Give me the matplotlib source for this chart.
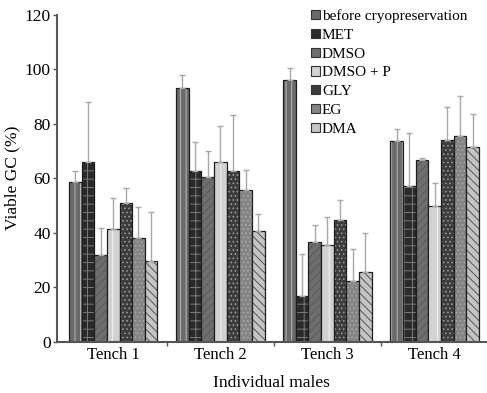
import numpy as np
import matplotlib.pyplot as plt

plt.rcParams["font.family"] = ["Liberation Serif", "DejaVu Serif"]
plt.rcParams["hatch.linewidth"] = 0.7

groups = ["Tench 1", "Tench 2", "Tench 3", "Tench 4"]
series = ["before cryopreservation", "MET", "DMSO", "DMSO + P", "GLY", "EG", "DMA"]

# mean viable GC (%) per series, one value per tench
before = [58.5, 93.0, 96.0, 73.8]
met = [66.0, 62.6, 16.7, 57.2]
dmso = [32.0, 60.6, 36.6, 66.5]
dmso_p = [41.5, 65.8, 35.6, 50.0]
gly = [50.8, 62.6, 44.6, 74.0]
eg = [38.0, 55.8, 22.5, 75.5]
dma = [29.8, 40.8, 25.5, 71.3]

# upper error (SD) per series
before_err = [4.0, 5.0, 4.3, 4.4]
met_err = [22.0, 10.6, 15.4, 19.4]
dmso_err = [9.8, 9.2, 6.3, 1.0]
dmso_p_err = [11.3, 13.4, 10.3, 8.2]
gly_err = [5.8, 20.5, 7.5, 12.2]
eg_err = [11.5, 7.2, 11.4, 14.8]
dma_err = [17.8, 6.2, 14.4, 12.2]

values = [before, met, dmso, dmso_p, gly, eg, dma]
errors = [before_err, met_err, dmso_err, dmso_p_err, gly_err, eg_err, dma_err]

# facecolor, hatch colour, hatch
styles = [
    ("#6a6a6a", "#b8b8b8", "|||"),
    ("#2a2a2a", "#7a7a7a", "++"),
    ("#6e6e6e", "#5a5a5a", "////"),
    ("#d2d2d2", "#eeeeee", "||"),
    ("#3c3c3c", "#9a9a9a", "...."),
    ("#858585", "#a8a8a8", "...."),
    ("#c4c4c4", "#555555", "\\\\\\\\"),
]

fig, ax = plt.subplots(figsize=(4.87, 3.93), dpi=100)
fig.subplots_adjust(left=0.118, right=0.998, top=0.963, bottom=0.13)

x = np.arange(len(groups))
width = 0.118
n = len(series)
for i, (name, vals, errs) in enumerate(zip(series, values, errors)):
    fc, hc, hatch = styles[i]
    pos = x + (i - (n - 1) / 2) * width
    # hatched fill first, then the dark outline on top
    ax.bar(pos, vals, width, color=fc, edgecolor=hc, hatch=hatch, linewidth=0)
    ax.bar(pos, vals, width, fill=False, edgecolor="#1e1e1e", linewidth=0.9)
    ax.errorbar(pos, vals, yerr=[np.zeros(len(errs)), errs], fmt="none",
                ecolor="#a8a8a8", elinewidth=1.0, capsize=2, capthick=1.0)

# legend proxies: small grey squares with a dark rim
handles = [plt.Rectangle((0, 0), 1, 1, facecolor=s[0], edgecolor="#333333",
                         linewidth=0.8) for s in styles]

ax.set_xlim(-0.52, 3.48)
ax.set_ylim(0, 120)
ax.set_yticks(range(0, 121, 20))
ax.set_xticks(x)
ax.set_xticklabels(groups)
ax.set_xticks(np.arange(0.5, 3.5, 1), minor=True)
ax.tick_params(axis="x", which="major", length=0, labelsize=12, pad=4)
ax.tick_params(axis="x", which="minor", length=3, width=1, color="#555555")
ax.tick_params(axis="y", length=3, width=1, color="#555555", labelsize=12.5, pad=2)
for side in ["top", "right"]:
    ax.spines[side].set_visible(False)
for side in ["left", "bottom"]:
    ax.spines[side].set_color("#555555")
    ax.spines[side].set_linewidth(1.5)

ax.set_xlabel("Individual males", fontsize=12.5, labelpad=8)
ax.set_ylabel("Viable GC (%)", fontsize=12.5, labelpad=3)

ax.legend(handles, series, loc="upper left", bbox_to_anchor=(0.578, 1.035),
          frameon=False, fontsize=11, handlelength=0.55, handleheight=0.55,
          handletextpad=0.15, labelspacing=0.38, borderaxespad=0)

fig.savefig("out.png", dpi=100)
